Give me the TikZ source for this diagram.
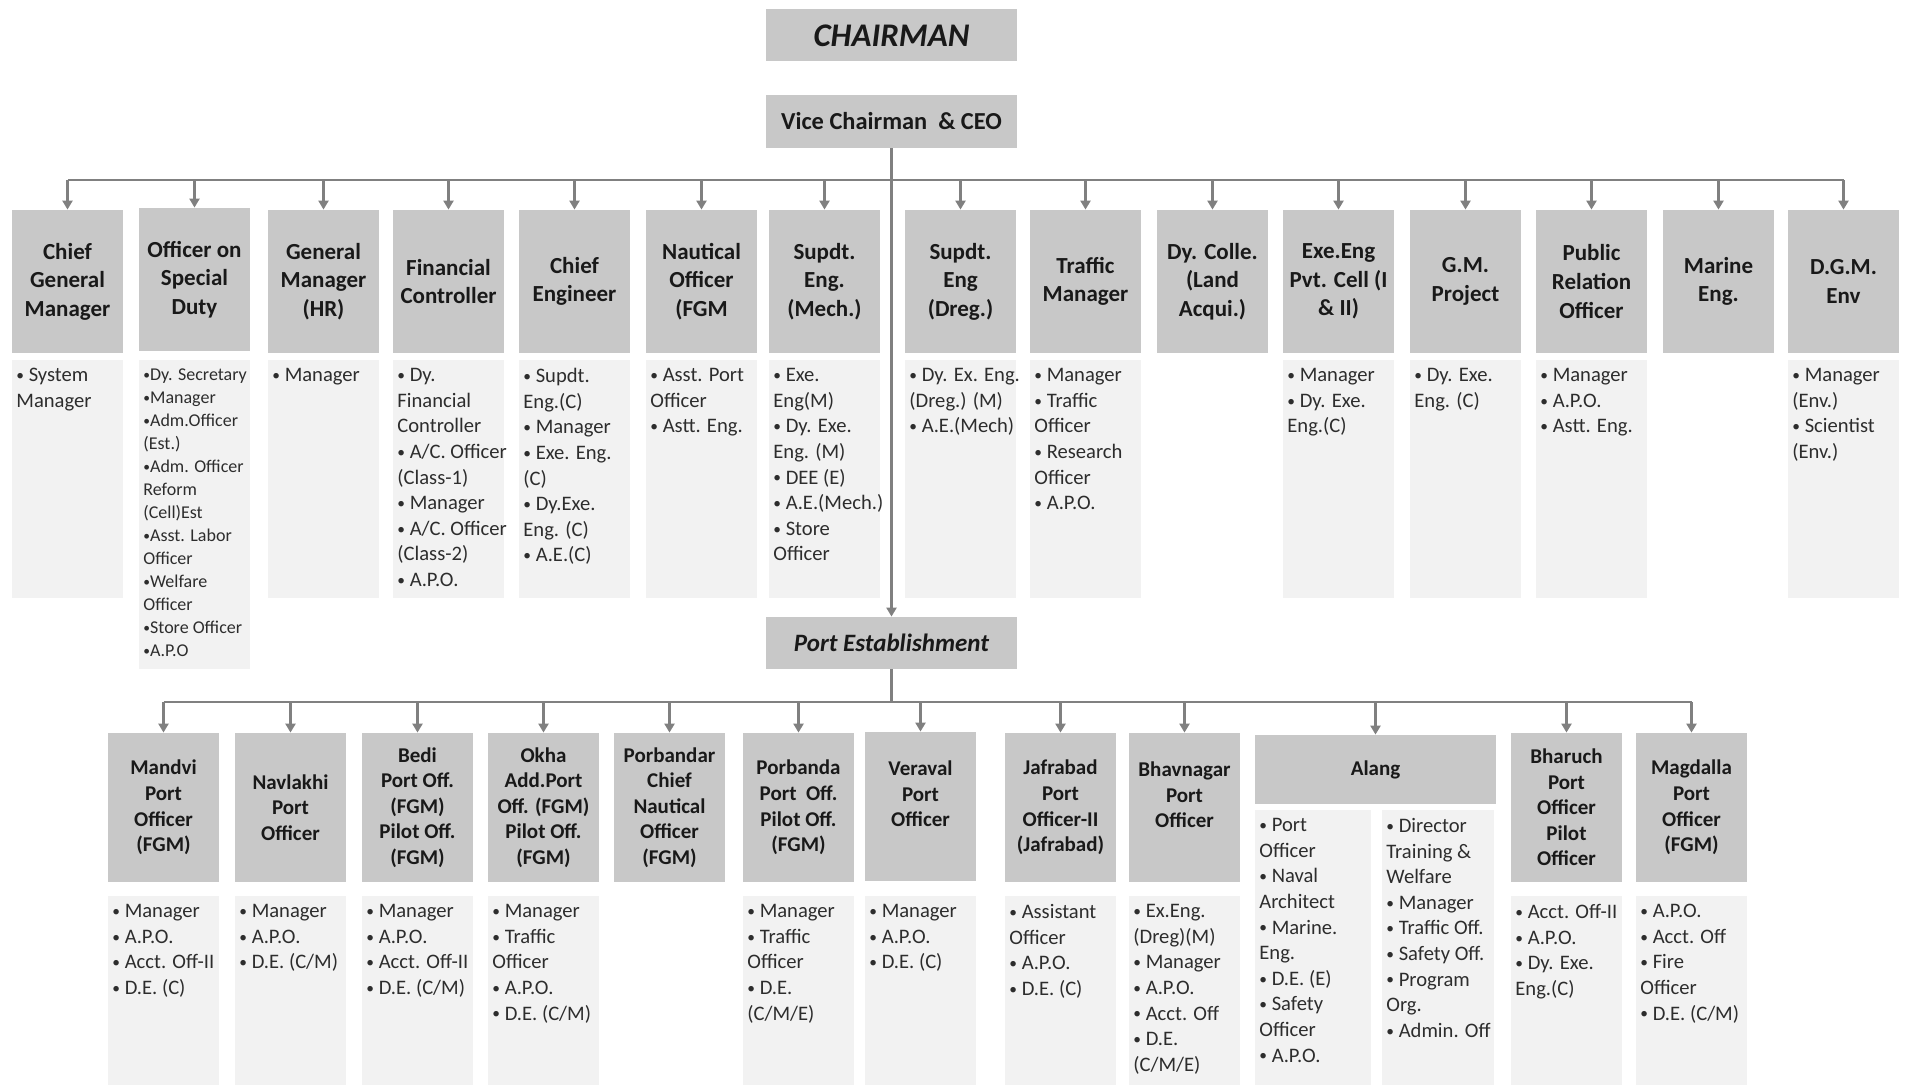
\documentclass[tikz,border=0pt]{standalone}
\usepackage{fontspec}
\setmainfont{Carlito}
\usetikzlibrary{arrows.meta}
\definecolor{hdgray}{RGB}{200,200,200}
\definecolor{lsgray}{RGB}{242,242,242}
\definecolor{lngray}{RGB}{128,128,128}
\definecolor{txt}{RGB}{25,25,25}
\definecolor{ltxt}{RGB}{45,45,45}
\newcommand\bu{\raisebox{0.12ex}{\scalebox{0.75}{•}}}
\tikzset{
  x=0.5pt, y=-0.5pt,
  topbox/.style={fill=hdgray, text=txt, inner sep=0pt, align=center,
    font=\bfseries\itshape\fontsize{16.5}{19}\selectfont,
    minimum width=125.5pt, minimum height=26pt},
  hdtop/.style={fill=hdgray, text=txt, inner sep=0pt, align=center,
    font=\bfseries\fontsize{11.5}{14.3}\selectfont,
    minimum width=55.5pt, minimum height=71.5pt},
  hdbot/.style={fill=hdgray, text=txt, inner sep=0pt, align=center,
    font=\bfseries\fontsize{10.5}{12.8}\selectfont,
    minimum width=55.5pt, minimum height=74.5pt},
  lsttext/.style={anchor=north west, inner sep=0pt, align=left, text=ltxt,
    font=\fontsize{10.3}{12.8}\selectfont},
  lstsmall/.style={lsttext, font=\fontsize{9}{11.5}\selectfont},
  conn/.style={draw=lngray, line width=1.4pt},
  arr/.style={conn, -{Triangle[width=5pt,length=4.5pt]}}
}
\newcommand\listbox[7][]{%
  \fill[lsgray] (#3,#4) rectangle (#5,#6);
  \node[lsttext,#1] (#2) at (#3+4,#4+8) {#7};}
\begin{document}
\begin{tikzpicture}
\useasboundingbox (0,0) rectangle (1907,1085);
% top
\node[topbox] (chair) at (891.5,35.5) {CHAIRMAN};
\node[topbox, font=\bfseries\fontsize{12.2}{14}\selectfont, minimum height=26.5pt] (vc) at (891.5,121.5) {Vice Chairman \ \& CEO};
\node[topbox, font=\bfseries\itshape\fontsize{12.5}{15}\selectfont] (pe) at (891.5,643) {Port Establishment};
% top headings
\node[hdtop] (t1) at (67.5,281.5) {Chief\\General\\Manager};
\node[hdtop] (t2) at (194.5,279.5) {Officer on\\Special\\Duty};
\node[hdtop] (t3) at (323.5,281.5) {General\\Manager\\(HR)};
\node[hdtop] (t4) at (448.5,281.5) {Financial\\Controller};
\node[hdtop] (t5) at (574.5,281.5) {Chief\\Engineer};
\node[hdtop] (t6) at (701.5,281.5) {Nautical\\Officer\\(FGM};
\node[hdtop] (t7) at (824.5,281.5) {Supdt.\\Eng.\\(Mech.)};
\node[hdtop] (t8) at (960.5,281.5) {Supdt.\\Eng\\(Dreg.)};
\node[hdtop] (t9) at (1085.5,281.5) {Traffic\\Manager};
\node[hdtop] (t10) at (1212.5,281.5) {Dy. Colle.\\(Land\\Acqui.)};
\node[hdtop] (t11) at (1338.5,281.5) {Exe.Eng\\Pvt. Cell (I\\\& II)};
\node[hdtop] (t12) at (1465.5,281.5) {G.M.\\Project};
\node[hdtop] (t13) at (1591.5,281.5) {Public\\Relation\\Officer};
\node[hdtop] (t14) at (1718.5,281.5) {Marine\\Eng.};
\node[hdtop] (t15) at (1843.5,281.5) {D.G.M.\\Env};
% top lists
\listbox{l1}{12}{360}{123}{598}{\bu{} System\\Manager}
\listbox[lstsmall]{l2}{139}{360}{250}{669}{\bu Dy. Secretary\\\bu Manager\\\bu Adm.Officer\\(Est.)\\\bu Adm. Officer\\Reform\\(Cell)Est\\\bu Asst. Labor\\Officer\\\bu Welfare\\Officer\\\bu Store Officer\\\bu A.P.O}
\listbox{l3}{268}{360}{379}{598}{\bu{} Manager}
\listbox{l4}{393}{360}{504}{598}{\bu{} Dy.\\Financial\\Controller\\\bu{} A/C. Officer\\(Class-1)\\\bu{} Manager\\\bu{} A/C. Officer\\(Class-2)\\\bu{} A.P.O.}
\listbox{l5}{519}{360}{630}{598}{\bu{} Supdt.\\Eng.(C)\\\bu{} Manager\\\bu{} Exe. Eng.\\(C)\\\bu{} Dy.Exe.\\Eng. (C)\\\bu{} A.E.(C)}
\listbox{l6}{646}{360}{757}{598}{\bu{} Asst. Port\\Officer\\\bu{} Astt. Eng.}
\listbox{l7}{769}{360}{880}{598}{\bu{} Exe.\\Eng(M)\\\bu{} Dy. Exe.\\Eng. (M)\\\bu{} DEE (E)\\\bu{} A.E.(Mech.)\\\bu{} Store\\Officer}
\listbox{l8}{905}{360}{1016}{598}{\bu{} Dy. Ex. Eng.\\(Dreg.) (M)\\\bu{} A.E.(Mech)}
\listbox{l9}{1030}{360}{1141}{598}{\bu{} Manager\\\bu{} Traffic\\Officer\\\bu{} Research\\Officer\\\bu{} A.P.O.}
\listbox{l11}{1283}{360}{1394}{598}{\bu{} Manager\\\bu{} Dy. Exe.\\Eng.(C)}
\listbox{l12}{1410}{360}{1521}{598}{\bu{} Dy. Exe.\\Eng. (C)}
\listbox{l13}{1536}{360}{1647}{598}{\bu{} Manager\\\bu{} A.P.O.\\\bu{} Astt. Eng.}
\listbox{l15}{1788}{360}{1899}{598}{\bu{} Manager\\(Env.)\\\bu{} Scientist\\(Env.)}
% bottom headings
\node[hdbot] (b1) at (163.5,807.5) {Mandvi\\Port\\Officer\\(FGM)};
\node[hdbot] (b2) at (290.5,807.5) {Navlakhi\\Port\\Officer};
\node[hdbot] (b3) at (417.5,807.5) {Bedi\\Port Off.\\(FGM)\\Pilot Off.\\(FGM)};
\node[hdbot] (b4) at (543.5,807.5) {Okha\\Add.Port\\Off. (FGM)\\Pilot Off.\\(FGM)};
\node[hdbot] (b5) at (669.5,807.5) {Porbandar\\Chief\\Nautical\\Officer\\(FGM)};
\node[hdbot] (b6) at (798.5,807.5) {Porbanda\\Port \ Off.\\Pilot Off.\\(FGM)};
\node[hdbot] (b7) at (920.5,806.5) {Veraval\\Port\\Officer\\\mbox{}};
\node[hdbot] (b8) at (1060.5,807.5) {Jafrabad\\Port\\Officer-II\\(Jafrabad)};
\node[hdbot] (b9) at (1184.5,807.5) {Bhavnagar\\Port\\Officer\\\mbox{}};
\node[hdbot, minimum width=120.5pt, minimum height=34.5pt] (b10) at (1375.5,769.5) {Alang};
\node[hdbot] (b11) at (1566.5,807.5) {Bharuch\\Port\\Officer\\Pilot\\Officer};
\node[hdbot] (b12) at (1691.5,807.5) {Magdalla\\Port\\Officer\\(FGM)};
% bottom lists
\listbox{m1}{108}{896}{219}{1085}{\bu{} Manager\\\bu{} A.P.O.\\\bu{} Acct. Off-II\\\bu{} D.E. (C)}
\listbox{m2}{235}{896}{346}{1085}{\bu{} Manager\\\bu{} A.P.O.\\\bu{} D.E. (C/M)}
\listbox{m3}{362}{896}{473}{1085}{\bu{} Manager\\\bu{} A.P.O.\\\bu{} Acct. Off-II\\\bu{} D.E. (C/M)}
\listbox{m4}{488}{896}{599}{1085}{\bu{} Manager\\\bu{} Traffic\\Officer\\\bu{} A.P.O.\\\bu{} D.E. (C/M)}
\listbox{m6}{743}{896}{854}{1085}{\bu{} Manager\\\bu{} Traffic\\Officer\\\bu{} D.E.\\(C/M/E)}
\listbox{m7}{865}{896}{976}{1085}{\bu{} Manager\\\bu{} A.P.O.\\\bu{} D.E. (C)}
\listbox{m8}{1005}{896}{1116}{1085}{\bu{} Assistant\\Officer\\\bu{} A.P.O.\\\bu{} D.E. (C)}
\listbox{m9}{1129}{896}{1240}{1085}{\bu{} Ex.Eng.\\(Dreg)(M)\\\bu{} Manager\\\bu{} A.P.O.\\\bu{} Acct. Off\\\bu{} D.E.\\(C/M/E)}
\listbox{m10a}{1255}{810}{1371}{1085}{\bu{} Port\\Officer\\\bu{} Naval\\Architect\\\bu{} Marine.\\Eng.\\\bu{} D.E. (E)\\\bu{} Safety\\Officer\\\bu{} A.P.O.}
\listbox{m10b}{1382}{810}{1494}{1085}{\bu{} Director\\Training \&\\Welfare\\\bu{} Manager\\\bu{} Traffic Off.\\\bu{} Safety Off.\\\bu{} Program\\Org.\\\bu{} Admin. Off}
\listbox{m11}{1511}{896}{1622}{1085}{\bu{} Acct. Off-II\\\bu{} A.P.O.\\\bu{} Dy. Exe.\\Eng.(C)}
\listbox{m12}{1636}{896}{1747}{1085}{\bu{} A.P.O.\\\bu{} Acct. Off\\\bu{} Fire\\Officer\\\bu{} D.E. (C/M)}
% connectors
\coordinate (bus1) at (0,180);
\coordinate (bus2) at (0,702);
\draw[arr] (vc.south) -- (pe.north);
\draw[conn] (t1.north |- bus1) -- (t15.north |- bus1);
\foreach \n in {t1,t2,t3,t4,t5,t6,t7,t8,t9,t10,t11,t12,t13,t14,t15}
  \draw[arr] (\n.north |- bus1) -- (\n.north);
\draw[conn] (pe.south) -- (pe.south |- bus2);
\draw[conn] (b1.north |- bus2) -- (b12.north |- bus2);
\foreach \n in {b1,b2,b3,b4,b5,b6,b7,b8,b9,b10,b11,b12}
  \draw[arr] (\n.north |- bus2) -- (\n.north);
\end{tikzpicture}
\end{document}
